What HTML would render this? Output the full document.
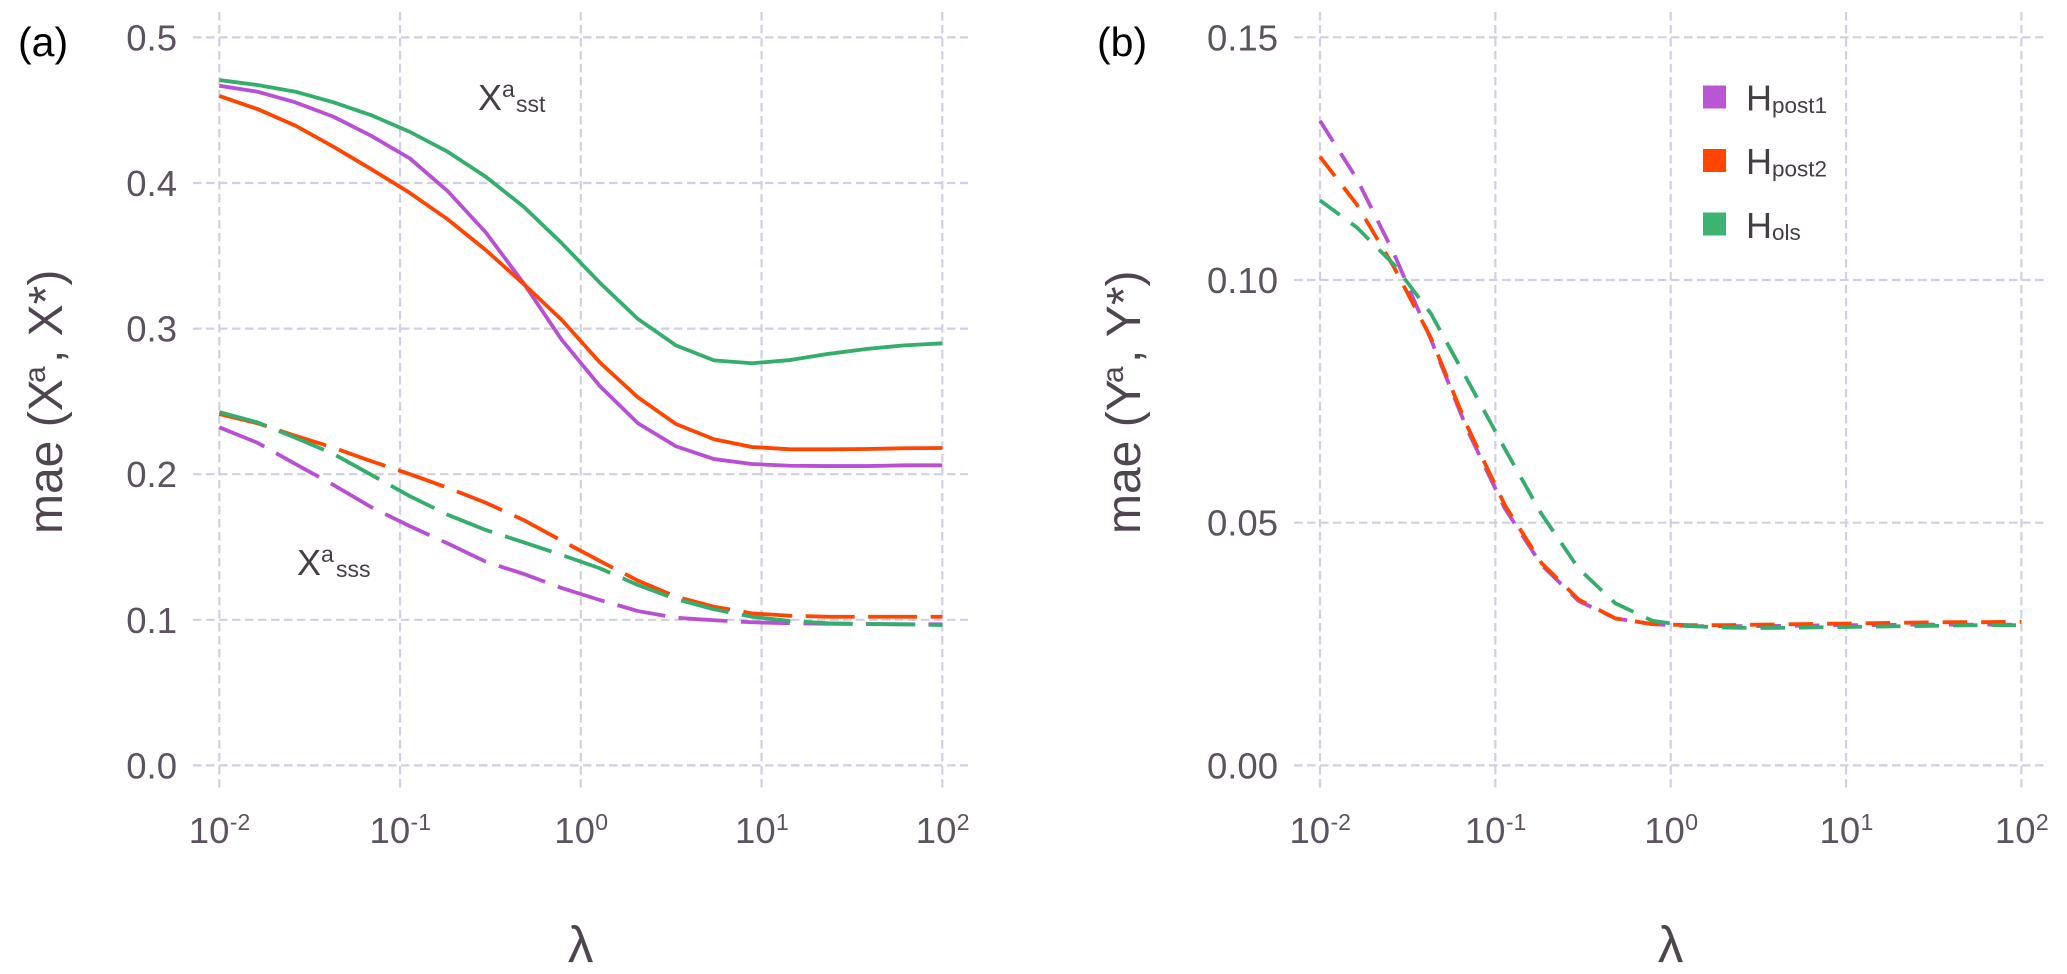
<!DOCTYPE html>
<html lang="en">
<head>
<meta charset="utf-8">
<title>MAE versus lambda</title>
<style>
html,body{margin:0;padding:0;background:#fff;}
svg{display:block;font-family:"Liberation Sans",Arial,sans-serif;}
.tick{font-size:36.5px;fill:#5c5260;}
.sup{font-size:23px;fill:#5c5260;}
.title{font-size:48px;fill:#4f4550;}
.lambda{font-size:51px;fill:#4f4550;}
.titlesup{font-size:30px;fill:#4f4550;}
.ann{font-size:36px;fill:#453d47;}
.annsmall{font-size:23px;fill:#453d47;}
.panel{font-size:41px;fill:#000;}
</style>
</head>
<body>
<svg id="chart" xmlns="http://www.w3.org/2000/svg" width="2067" height="974" viewBox="0 0 2067 974">
  <g id="panel-a"></g>
  <g id="panel-b"></g>

  <text class="panel" x="18" y="56">(a)</text>
  <text class="panel" x="1097" y="56">(b)</text>

  <g transform="translate(62,534) rotate(-90)">
    <text class="title" x="0" y="0">mae (X</text>
    <text class="titlesup" x="151" y="-17">a</text>
    <text class="title" x="171" y="0">, X*)</text>
  </g>
  <g transform="translate(1140,534) rotate(-90)">
    <text class="title" x="0" y="0">mae (Y</text>
    <text class="titlesup" x="151" y="-17">a</text>
    <text class="title" x="171" y="0">, Y*)</text>
  </g>
  <text class="lambda" x="580.6" y="962" text-anchor="middle">λ</text>
  <text class="lambda" x="1670.6" y="962" text-anchor="middle">λ</text>

  <g>
    <text class="ann" x="478" y="110">X</text>
    <text class="annsmall" x="502" y="97">a</text>
    <text class="annsmall" x="516" y="112">sst</text>
  </g>
  <g>
    <text class="ann" x="297" y="575">X</text>
    <text class="annsmall" x="321" y="562">a</text>
    <text class="annsmall" x="336" y="577">sss</text>
  </g>

  <g>
    <g>
      <rect x="1703" y="85.5" width="23" height="23" fill="#BA55D3"/>
      <text class="ann" x="1746" y="110.5">H</text>
      <text class="annsmall" x="1772" y="113" style="font-size:22.5px">post1</text>
    </g>
    <g>
      <rect x="1703" y="149" width="23" height="23" fill="#FF4500"/>
      <text class="ann" x="1746" y="174">H</text>
      <text class="annsmall" x="1772" y="176.5" style="font-size:22.5px">post2</text>
    </g>
    <g>
      <rect x="1703" y="212.5" width="23" height="23" fill="#3CB371"/>
      <text class="ann" x="1746" y="238">H</text>
      <text class="annsmall" x="1772" y="240" style="font-size:22.5px">ols</text>
    </g>
  </g>
</svg>
<script>
// log10(lambda) sampling positions shared by all series
const lambdaExponents = [-2, -1.789, -1.579, -1.368, -1.158, -0.947, -0.737, -0.526, -0.316, -0.105, 0.105, 0.316, 0.526, 0.737, 0.947, 1.158, 1.368, 1.579, 1.789, 2];

// Axis tick values
const xTickExponents = [-2, -1, 0, 1, 2];
const xTickSuperscripts = ['-2', '-1', '0', '1', '2'];
const yTicksA = [0, 0.1, 0.2, 0.3, 0.4, 0.5];
const yTickLabelsA = ['0.0', '0.1', '0.2', '0.3', '0.4', '0.5'];
const yTicksB = [0, 0.05, 0.10, 0.15];
const yTickLabelsB = ['0.00', '0.05', '0.10', '0.15'];

// Panel (a), X^a_sst (solid)
const sstPost1 = [.4668, .4627, .4554, .4455, .4323, .4170, .3945, .3661, .3311, .2922, .2606, .2350, .2192, .2104, .2070, .2058, .2056, .2056, .2061, .2061];
const sstPost2 = [.4598, .4508, .4394, .4249, .4094, .3933, .3751, .3540, .3306, .3059, .2768, .2528, .2345, .2240, .2187, .2171, .2171, .2173, .2178, .2180];
const sstOls = [.4707, .4673, .4627, .4554, .4465, .4352, .4215, .4043, .3837, .3586, .3315, .3066, .2885, .2782, .2762, .2784, .2826, .2860, .2885, .2899];

// Panel (a), X^a_sss (long dash)
const sssPost1 = [.2322, .2216, .2070, .1926, .1773, .1644, .1525, .1399, .1315, .1218, .1136, .1060, .1014, .0997, .0983, .0976, .0973, .0971, .0969, .0969];
const sssPost2 = [.2413, .2350, .2264, .2182, .2089, .2001, .1907, .1804, .1685, .1543, .1404, .1269, .1159, .1090, .1044, .1028, .1021, .1021, .1021, .1021];
const sssOls = [.2427, .2356, .2250, .2139, .1995, .1850, .1722, .1617, .1532, .1445, .1354, .1239, .1143, .1072, .1021, .0992, .0976, .0971, .0969, .0964];

// Panel (b), Y^a (dash)
const yPost1 = [.1328, .1208, .1055, .0878, .0690, .0530, .0413, .0339, .0303, .0291, .0287, .0287, .0287, .0288, .0289, .0289, .0290, .0290, .0290, .0290];
const yPost2 = [.1254, .1155, .1027, .0881, .0697, .0537, .0417, .0342, .0303, .0291, .0289, .0289, .0290, .0291, .0292, .0293, .0294, .0295, .0295, .0296];
const yOls = [.1164, .1108, .1032, .0931, .0793, .0653, .0518, .0406, .0334, .0298, .0287, .0284, .0283, .0284, .0285, .0286, .0287, .0288, .0289, .0289];

const colorPost1 = '#B94FD4';
const colorPost2 = '#FF4500';
const colorOls = '#33AE6C';
const gridColor = '#d1cfe4';
const NS = 'http://www.w3.org/2000/svg';

function makeAxes(x0, xDecade, yZero, yScale) {
  return {
    x: function (e) { return x0 + (e + 2) * xDecade; },
    y: function (v) { return yZero - v * yScale; }
  };
}
const axesA = makeAxes(219.3, 180.75, 765.4, 1456);
const axesB = makeAxes(1320, 175.35, 765.4, 4854);

function addLine(parent, x1, y1, x2, y2) {
  const l = document.createElementNS(NS, 'line');
  l.setAttribute('x1', x1);
  l.setAttribute('y1', y1);
  l.setAttribute('x2', x2);
  l.setAttribute('y2', y2);
  l.setAttribute('stroke', gridColor);
  l.setAttribute('stroke-width', '2.2');
  l.setAttribute('stroke-dasharray', '8.5 4.5');
  parent.appendChild(l);
  return l;
}

function addText(parent, cls, x, y, str, anchor) {
  const t = document.createElementNS(NS, 'text');
  t.setAttribute('class', cls);
  t.setAttribute('x', x);
  t.setAttribute('y', y);
  if (anchor) t.setAttribute('text-anchor', anchor);
  t.textContent = str;
  parent.appendChild(t);
  return t;
}

function drawAxes(panel, axes, yTicks, yLabels, left, right) {
  yTicks.forEach(function (v, i) {
    const gl = addLine(panel, left, axes.y(v), right, axes.y(v));
    
    
    const lb = addText(panel, 'tick', left - 16, axes.y(v) + 13, yLabels[i], 'end');
    
    
  });
  xTickExponents.forEach(function (e, i) {
    const gl = addLine(panel, axes.x(e), 12, axes.x(e), 790);
    
    
    const g = document.createElementNS(NS, 'g');
    
    
    const sup = xTickSuperscripts[i];
    const supW = sup.length > 1 ? 21 : 13;
    const baseX = axes.x(e) - 20 - supW / 2;
    addText(g, 'tick', baseX, 843, '10');
    addText(g, 'sup', baseX + 41, 830, sup);
    panel.appendChild(g);
  });
}

function drawSeries(panel, axes, values, color, dash, name) {
  const p = document.createElementNS(NS, 'path');
  let d = '';
  values.forEach(function (v, i) {
    d += (i ? 'L' : 'M') + axes.x(lambdaExponents[i]).toFixed(2) + ' ' + axes.y(v).toFixed(2);
  });
  p.setAttribute('d', d);
  p.setAttribute('fill', 'none');
  p.setAttribute('stroke', color);
  p.setAttribute('stroke-width', '3.8');
  p.setAttribute('stroke-linejoin', 'round');
  if (dash) p.setAttribute('stroke-dasharray', dash);
  
  
  panel.appendChild(p);
}

const panelA = document.getElementById('panel-a');
const panelB = document.getElementById('panel-b');
drawAxes(panelA, axesA, yTicksA, yTickLabelsA, 193, 968);
drawAxes(panelB, axesB, yTicksB, yTickLabelsB, 1294, 2046);

const longDash = '49 13.5';
const shortDash = '24.5 14';
drawSeries(panelA, axesA, sstPost1, colorPost1, null, 'line-sst-h-post1');
drawSeries(panelA, axesA, sstPost2, colorPost2, null, 'line-sst-h-post2');
drawSeries(panelA, axesA, sstOls, colorOls, null, 'line-sst-h-ols');
drawSeries(panelA, axesA, sssPost1, colorPost1, longDash, 'line-sss-h-post1');
drawSeries(panelA, axesA, sssPost2, colorPost2, longDash, 'line-sss-h-post2');
drawSeries(panelA, axesA, sssOls, colorOls, longDash, 'line-sss-h-ols');
drawSeries(panelB, axesB, yPost1, colorPost1, shortDash, 'line-y-h-post1');
drawSeries(panelB, axesB, yPost2, colorPost2, shortDash, 'line-y-h-post2');
drawSeries(panelB, axesB, yOls, colorOls, shortDash, 'line-y-h-ols');
</script>
</body>
</html>
